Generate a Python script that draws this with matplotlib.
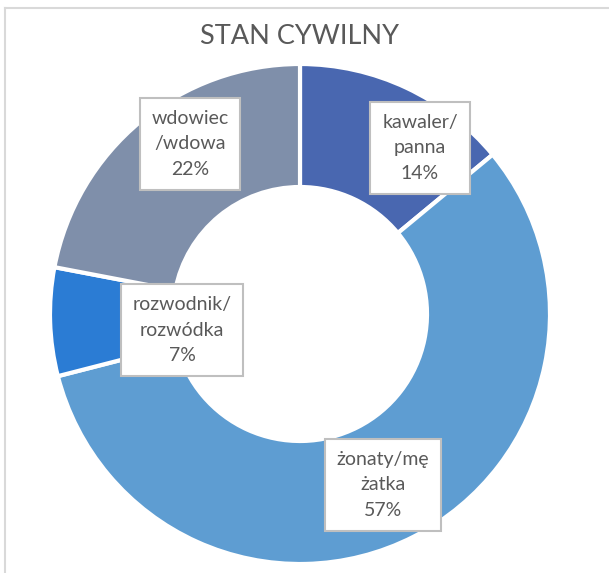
import matplotlib
matplotlib.use("Agg")
import matplotlib.pyplot as plt

# ---- data ----
categories = ["kawaler/\npanna", "żonaty/mę\nżatka", "rozwodnik/\nrozwódka", "wdowiec\n/wdowa"]
values = [14, 57, 7, 22]
colors = ["#4967b0", "#5e9dd2", "#2b7cd4", "#7f8faa"]

plt.rcParams["font.family"] = ["Lato", "DejaVu Sans"]

W, H = 609, 573
fig = plt.figure(figsize=(W / 100, H / 100), dpi=100)
ax = fig.add_axes([0, 0, 1, 1])


def py(y):
    # image pixel row -> data y
    return H - y


ax.pie(
    values,
    colors=colors,
    startangle=90,
    counterclock=False,
    radius=250,
    center=(300, py(314)),
    wedgeprops=dict(width=123, edgecolor="white", linewidth=3),
)
ax.set_xlim(0, W)
ax.set_ylim(0, H)
ax.set_aspect("auto")
ax.axis("off")

# chart frame (left and top edges visible)
ax.plot([5, 5], [py(8), py(573)], color="#d9d9d9", lw=1.5, clip_on=False)
ax.plot([5, W], [py(8), py(8)], color="#d9d9d9", lw=1.5, clip_on=False)

ax.text(300, py(36), "STAN CYWILNY", ha="center", va="center",
        fontsize=19.5, color="#595959")

# label box centres (pixels in the picture)
label_pos = [(420, 148), (383, 485), (182, 330), (190, 144)]
total = sum(values)
for name, v, (lx, ly) in zip(categories, values, label_pos):
    ax.text(lx, py(ly), f"{name}\n{round(100 * v / total)}%",
            ha="center", va="center", multialignment="center",
            fontsize=14, color="#595959", linespacing=1.6,
            bbox=dict(boxstyle="square,pad=0.6", fc="white",
                      ec="#bfbfbf", lw=1.5))

fig.savefig("out.png", dpi=100)
